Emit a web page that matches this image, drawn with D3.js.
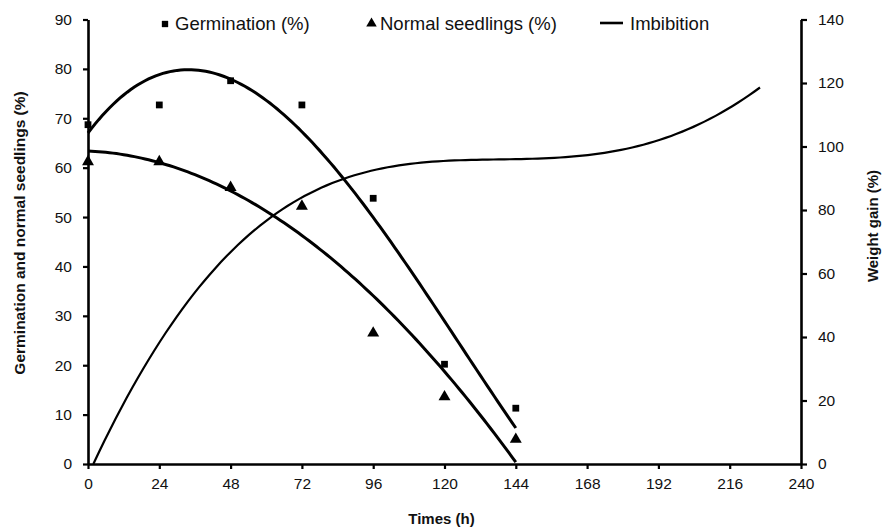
<!DOCTYPE html>
<html>
<head>
<meta charset="utf-8">
<script src="https://cdn.jsdelivr.net/npm/d3@7"></script>
<style>
  html, body { margin: 0; padding: 0; background: #fff; }
  svg { display: block; font-family: "Liberation Sans", Arial, sans-serif; }
</style>
</head>
<body>
<svg id="chart" width="882" height="529"></svg>
<script>
// ---- Data ----
const times = [0, 24, 48, 72, 96, 120, 144];
const germination = [68.7, 72.7, 77.6, 72.7, 53.8, 20.2, 11.3];
const normalSeedlings = [61.2, 61.2, 56.0, 52.2, 26.5, 13.6, 5.0];

// Trend line samples
const trendTimes = [0, 12, 24, 36, 48, 60, 72, 84, 96, 108, 120, 132, 144];
const germinationTrend = [66.8, 75.0, 79.0, 79.8, 77.8, 73.2, 67.3, 59.3, 50.6, 39.5, 28.7, 17.9, 7.4];
const normalTrend = [63.5, 62.5, 60.8, 58.6, 55.6, 51.3, 46.3, 40.4, 33.8, 26.8, 18.8, 10.2, 0.2];

// Imbibition (weight gain, right axis)
const imbibitionTimes = [1.8, 10.8, 24.2, 33.2, 48, 61.3, 85.9, 105, 127.5, 155.6, 172.3, 189.2, 206.7, 226.2];
const imbibitionGain = [0, 17.0, 38.0, 51.6, 66.3, 77.5, 89.4, 94.7, 95.7, 96.0, 97.8, 101.5, 107.3, 118.6];

// Axis ticks
const xTicks = [0, 24, 48, 72, 96, 120, 144, 168, 192, 216, 240];
const yLeftTicks = [0, 10, 20, 30, 40, 50, 60, 70, 80, 90];
const yRightTicks = [0, 20, 40, 60, 80, 100, 120, 140];

const legendLabels = ["Germination (%)", "Normal seedlings (%)", "Imbibition"];

// ---- Polynomial trendline (least squares through the read samples) ----
function polyFit(xs, ys, deg) {
  const s = 100;
  const n = deg + 1;
  const A = Array.from({length: n}, () => new Array(n + 1).fill(0));
  xs.forEach((xv, k) => {
    const u = xv / s;
    for (let i = 0; i < n; i++) {
      for (let j = 0; j < n; j++) A[i][j] += Math.pow(u, i + j);
      A[i][n] += ys[k] * Math.pow(u, i);
    }
  });
  for (let c = 0; c < n; c++) {
    let p = c;
    for (let r = c + 1; r < n; r++) if (Math.abs(A[r][c]) > Math.abs(A[p][c])) p = r;
    [A[c], A[p]] = [A[p], A[c]];
    for (let r = 0; r < n; r++) {
      if (r === c) continue;
      const f = A[r][c] / A[c][c];
      for (let k = c; k <= n; k++) A[r][k] -= f * A[c][k];
    }
  }
  const coef = A.map((row, i) => row[n] / row[i]);
  return t => coef.reduce((acc, cc, i) => acc + cc * Math.pow(t / s, i), 0);
}
function trendPoints(xs, ys, deg) {
  const f = polyFit(xs, ys, deg);
  const t0 = xs[0], t1 = xs[xs.length - 1];
  return d3.range(0, 121).map(i => { const t = t0 + (t1 - t0) * i / 120; return [t, f(t)]; });
}

// ---- Layout ----
const svg = d3.select("#chart");
const mLeft = 88, mRight = 801, mTop = 19.5, mBottom = 464;

const x = d3.scaleLinear().domain([0, 240]).range([mLeft, mRight]);
const yL = d3.scaleLinear().domain([0, 90]).range([mBottom, mTop]);
const yR = d3.scaleLinear().domain([0, 140]).range([mBottom, mTop]);

const tickFont = "15.5px";

// Curves
const g = svg.append("g");
const lineL = d3.line().x(d => x(d[0])).y(d => yL(d[1]));
const lineR = d3.line().x(d => x(d[0])).y(d => yR(d[1]));

g.append("path").datum(trendPoints(imbibitionTimes, imbibitionGain, 5))
  .attr("d", lineR).attr("fill", "none").attr("stroke", "#000").attr("stroke-width", 2.2);
g.append("path").datum(trendPoints(trendTimes, germinationTrend, 3))
  .attr("d", lineL).attr("fill", "none").attr("stroke", "#000").attr("stroke-width", 3);
g.append("path").datum(trendPoints(trendTimes, normalTrend, 3))
  .attr("d", lineL).attr("fill", "none").attr("stroke", "#000").attr("stroke-width", 3);

// Markers
const sq = d3.symbol().type(d3.symbolSquare).size(46);
const tri = d3.symbol().type(d3.symbolTriangle).size(62);
g.selectAll(".germ").data(d3.zip(times, germination)).enter().append("path")
  .attr("class", "germ").attr("d", sq)
  .attr("transform", d => `translate(${x(d[0])},${yL(d[1])})`).attr("fill", "#000");
g.selectAll(".norm").data(d3.zip(times, normalSeedlings)).enter().append("path")
  .attr("class", "norm").attr("d", tri)
  .attr("transform", d => `translate(${x(d[0])},${yL(d[1])})`).attr("fill", "#000");

// Axes
function styleAxis(sel) {
  sel.select(".domain").attr("stroke", "#000").attr("stroke-width", 2.6);
  sel.selectAll(".tick line").attr("stroke", "#000").attr("stroke-width", 2.2);
  sel.selectAll(".tick text").attr("fill", "#111").style("font-size", tickFont)
    .style("font-family", "'Liberation Sans', Arial, sans-serif");
}
svg.append("g").attr("transform", `translate(0,${mBottom})`)
  .call(d3.axisBottom(x).tickValues(xTicks).tickSize(5).tickSizeOuter(0).tickPadding(9))
  .call(styleAxis);
svg.append("g").attr("transform", `translate(${mLeft},0)`)
  .call(d3.axisLeft(yL).tickValues(yLeftTicks).tickSize(5).tickSizeOuter(0).tickPadding(11))
  .call(styleAxis);
svg.append("g").attr("transform", `translate(${mRight},0)`)
  .call(d3.axisRight(yR).tickValues(yRightTicks).tickSize(6).tickSizeOuter(0).tickPadding(11))
  .call(styleAxis);

// Axis titles
svg.append("text").attr("x", (mLeft + mRight) / 2 - 3).attr("y", 524)
  .attr("text-anchor", "middle").style("font-weight", "bold").style("font-size", "15px")
  .attr("fill", "#111").text("Times (h)");
svg.append("text").attr("transform", `translate(25,233) rotate(-90)`)
  .attr("text-anchor", "middle").style("font-weight", "bold").style("font-size", "15.5px")
  .attr("fill", "#111").text("Germination and normal seedlings (%)");
svg.append("text").attr("transform", `translate(878,226) rotate(-90)`)
  .attr("text-anchor", "middle").style("font-weight", "bold").style("font-size", "15px")
  .attr("fill", "#111").text("Weight gain (%)");

// Legend
const lg = svg.append("g").style("font-size", "18.5px").attr("fill", "#111");
lg.append("path").attr("d", d3.symbol().type(d3.symbolSquare).size(40))
  .attr("transform", "translate(165,24)").attr("fill", "#000");
lg.append("text").attr("x", 175).attr("y", 30).text(legendLabels[0]);
lg.append("path").attr("d", d3.symbol().type(d3.symbolTriangle).size(48))
  .attr("transform", "translate(371.5,23.5)").attr("fill", "#000");
lg.append("text").attr("x", 380).attr("y", 30).text(legendLabels[1]);
lg.append("line").attr("x1", 600).attr("x2", 623).attr("y1", 23).attr("y2", 23)
  .attr("stroke", "#000").attr("stroke-width", 2.6);
lg.append("text").attr("x", 630).attr("y", 30).text(legendLabels[2]);
</script>
</body>
</html>
